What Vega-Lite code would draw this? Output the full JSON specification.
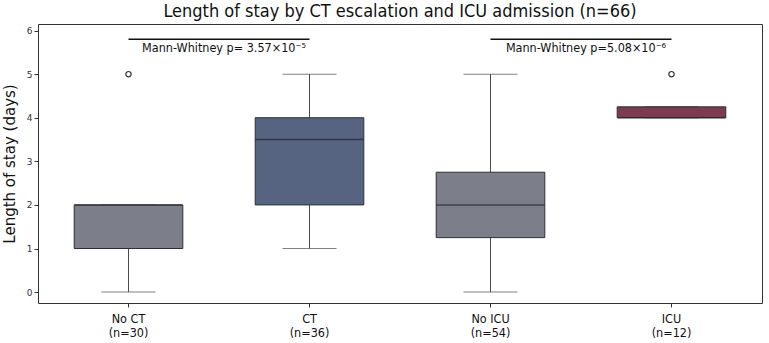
{
  "$schema": "https://vega.github.io/schema/vega-lite/v6.json",
  "width": 724,
  "height": 279,
  "autosize": {"type": "none"},
  "padding": {"left": 38, "top": 24, "right": 7, "bottom": 40},
  "title": {
    "text": "Length of stay by CT escalation and ICU admission (n=66)",
    "font": "DejaVu Sans Condensed",
    "fontSize": 18,
    "fontWeight": "normal",
    "color": "#111111",
    "anchor": "middle",
    "offset": 3
  },
  "config": {
    "font": "DejaVu Sans",
    "view": {"stroke": "#333333", "strokeWidth": 1}
  },
  "datasets": {
    "boxes": [
      {"group": "No CT", "lo": 0, "q1": 1, "median": 2, "q3": 2, "hi": 2},
      {"group": "CT", "lo": 1, "q1": 2, "median": 3.5, "q3": 4, "hi": 5},
      {"group": "No ICU", "lo": 0, "q1": 1.25, "median": 2, "q3": 2.75, "hi": 5},
      {"group": "ICU", "lo": 4, "q1": 4, "median": 4, "q3": 4.25, "hi": 4.25}
    ],
    "outliers": [
      {"group": "No CT", "value": 5},
      {"group": "ICU", "value": 5}
    ],
    "tests": [
      {"group": "No CT", "to": "CT", "y": 5.8, "label": "Mann-Whitney p= 3.57×10⁻⁵"},
      {"group": "No ICU", "to": "ICU", "y": 5.8, "label": "Mann-Whitney p=5.08×10⁻⁶"}
    ]
  },
  "encoding": {
    "x": {
      "field": "group",
      "type": "nominal",
      "sort": ["No CT", "CT", "No ICU", "ICU"],
      "scale": {"paddingInner": 0, "paddingOuter": 0},
      "axis": {
        "title": null,
        "labelAngle": 0,
        "labelFont": "DejaVu Sans Condensed",
        "labelFontSize": 12.5,
        "labelColor": "#111111",
        "labelPadding": 5,
        "labelLineHeight": 14,
        "tickSize": 4,
        "tickColor": "#333333",
        "domain": false,
        "grid": false,
        "labelExpr": "[datum.label, datum.label == 'No CT' ? '(n=30)' : datum.label == 'CT' ? '(n=36)' : datum.label == 'No ICU' ? '(n=54)' : '(n=12)']"
      }
    }
  },
  "layer": [
    {
      "data": {"name": "boxes"},
      "mark": {"type": "rule", "color": "#4a4a4a", "strokeWidth": 1},
      "encoding": {
        "y": {
          "field": "lo",
          "type": "quantitative",
          "scale": {"domain": [-0.25, 6.15], "nice": false, "zero": false},
          "axis": {
            "title": "Length of stay (days)",
            "titleFontSize": 15,
            "titleFontWeight": "normal",
            "titleColor": "#111111",
            "titlePadding": 9,
            "values": [0, 1, 2, 3, 4, 5, 6],
            "labelFontSize": 9,
            "labelColor": "#333333",
            "tickSize": 4,
            "tickColor": "#333333",
            "domain": false,
            "grid": false
          }
        },
        "y2": {"field": "hi"}
      }
    },
    {
      "data": {"name": "boxes"},
      "mark": {"type": "tick", "color": "#4a4a4a", "size": 54, "thickness": 1},
      "encoding": {"y": {"field": "lo", "type": "quantitative"}}
    },
    {
      "data": {"name": "boxes"},
      "mark": {"type": "tick", "color": "#4a4a4a", "size": 54, "thickness": 1},
      "encoding": {"y": {"field": "hi", "type": "quantitative"}}
    },
    {
      "data": {"name": "boxes"},
      "mark": {"type": "bar", "width": {"band": 0.6}, "stroke": "#2e2e38", "strokeWidth": 1, "opacity": 1},
      "encoding": {
        "y": {"field": "q1", "type": "quantitative"},
        "y2": {"field": "q3"},
        "fill": {
          "field": "group",
          "type": "nominal",
          "scale": {
            "domain": ["No CT", "CT", "No ICU", "ICU"],
            "range": ["#7c7f8a", "#566381", "#7c7f8a", "#7b3c4f"]
          },
          "legend": null
        }
      }
    },
    {
      "data": {"name": "boxes"},
      "mark": {"type": "tick", "color": "#23262f", "size": 108, "thickness": 1.5},
      "encoding": {"y": {"field": "median", "type": "quantitative"}}
    },
    {
      "data": {"name": "outliers"},
      "mark": {"type": "point", "shape": "circle", "size": 28, "filled": false, "stroke": "#333333", "strokeWidth": 1.2, "opacity": 1},
      "encoding": {"y": {"field": "value", "type": "quantitative"}}
    },
    {
      "data": {"name": "tests"},
      "mark": {"type": "rule", "color": "#111111", "strokeWidth": 1.3},
      "encoding": {
        "x2": {"field": "to"},
        "y": {"field": "y", "type": "quantitative"}
      }
    },
    {
      "data": {"name": "tests"},
      "mark": {"type": "text", "baseline": "top", "align": "center", "dy": 3, "dx": 5, "font": "DejaVu Sans Condensed", "fontSize": 12.5, "color": "#111111"},
      "encoding": {
        "x": {"field": "group", "type": "nominal", "sort": ["No CT", "CT", "No ICU", "ICU"], "bandPosition": 1},
        "y": {"field": "y", "type": "quantitative"},
        "text": {"field": "label"}
      }
    }
  ]
}
